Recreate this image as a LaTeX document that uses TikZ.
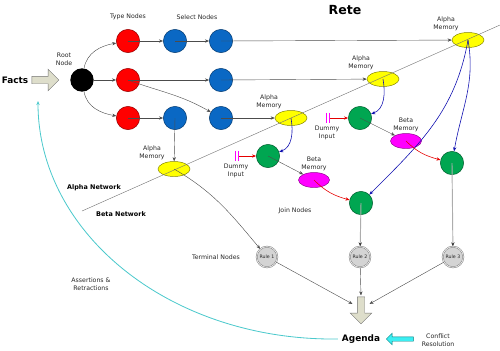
\documentclass[tikz,border=0pt]{standalone}
\usepackage{fontspec}
\setmainfont{DejaVu Sans}
\usetikzlibrary{arrows.meta,shapes.geometric,shapes.arrows}
\definecolor{typered}{HTML}{FF0000}
\definecolor{selectblue}{HTML}{0A68C4}
\definecolor{joingreen}{HTML}{00A651}
\definecolor{memyellow}{HTML}{FFFF00}
\definecolor{betamagenta}{HTML}{FF00FF}
\definecolor{alphablue}{HTML}{1010B0}
\definecolor{loopcyan}{HTML}{4CC9CC}
\definecolor{factgray}{HTML}{DEDECB}
\definecolor{conflictcyan}{HTML}{3CEEF2}

\begin{document}
\begin{tikzpicture}[
    x=0.03cm, y=-0.03cm,
    >={Stealth[length=3.5pt, width=2.8pt]},
    every node/.style={
        font=\fontsize{5.3}{6.6}\selectfont,
        align=center,
        text=black!85
    },
    ball/.style={
        circle,
        minimum size=0.7cm,
        inner sep=0pt
    },
    typenode/.style={ball, draw=typered!55!black, fill=typered},
    selectnode/.style={ball, draw=selectblue!55!black, fill=selectblue},
    joinnode/.style={ball, draw=joingreen!55!black, fill=joingreen},
    rootnode/.style={ball, fill=black},
    alphamem/.style={
        ellipse,
        draw=memyellow!50!black,
        fill=memyellow,
        minimum width=0.96cm,
        minimum height=0.45cm,
        inner sep=0pt
    },
    betamem/.style={
        ellipse,
        draw=betamagenta!55!black,
        fill=betamagenta,
        minimum width=0.93cm,
        minimum height=0.45cm,
        inner sep=0pt
    },
    rulenode/.style={
        circle,
        draw=black!50,
        line width=0.45pt,
        double=white,
        double distance=0.5pt,
        fill=black!17,
        minimum size=0.62cm,
        inner sep=0pt,
        font=\fontsize{4}{4.5}\selectfont
    },
    dummy/.style={
        minimum width=0.1cm,
        minimum height=0.3cm,
        inner sep=0pt
    },
    heading/.style={
        font=\fontsize{5.5}{6.6}\selectfont\bfseries,
        text=black
    },
    blockarrow/.style={
        single arrow,
        inner xsep=0pt,
        inner ysep=0.105cm,
        minimum height=0.81cm,
        single arrow head extend=0.21cm,
        draw=black!55,
        fill=factgray
    },
    flow/.style={->, draw=black!70, line width=0.35pt},
    alphaflow/.style={->, draw=alphablue, line width=0.5pt},
    betaflow/.style={->, draw=red!90!black, line width=0.5pt},
    ruleflow/.style={-{Stealth[length=3.5pt, width=2.8pt, black!80]}, draw=black!32, line width=0.8pt}
]
    \useasboundingbox (0,0) rectangle (500,350);

    \node[heading, font=\fontsize{10.7}{12}\selectfont\bfseries] (title) at (345,10) {Rete};
    \node[heading, font=\fontsize{7.6}{9}\selectfont\bfseries] (facts) at (15,80) {Facts};
    \node[blockarrow] (factsArrow) at (43.5,80) {};
    \node (rootlbl) at (64,59) {Root\\Node};
    \node (typelbl) at (128,17) {Type Nodes};
    \node (selectlbl) at (197,17) {Select Nodes};
    \node[heading] (alphanet) at (94,188) {Alpha Network};
    \node[heading] (betanet) at (121,214) {Beta Network};
    \node (joinlbl) at (295,211) {Join Nodes};
    \node (termlbl) at (216,257) {Terminal Nodes};
    \node (assertlbl) at (91,284) {Assertions \&\\Retractions};

    \node[rootnode] (root) at (82,80) {};
    \foreach \name/\x/\y in {
        t1/128/41,
        t2/128/80,
        t3/128/118%
    } {
        \node[typenode] (\name) at (\x,\y) {};
    }
    \foreach \name/\x/\y in {
        s1/175/41,
        s2/221/41,
        s3/221/80,
        s4/175/118,
        s5/221/118%
    } {
        \node[selectnode] (\name) at (\x,\y) {};
    }
    \foreach \name/\x/\y in {
        a1/468/40,
        a2/383/79,
        a3/291/118,
        a4/174/169%
    } {
        \node[alphamem] (\name) at (\x,\y) {};
        \node (\name lbl) at (\x-22,\y-16) {Alpha\\Memory};
    }
    \foreach \name/\x/\y in {
        j1/268/156,
        j2/360/118,
        j3/452/163,
        j4/361/203%
    } {
        \node[joinnode] (\name) at (\x,\y) {};
    }
    \foreach \name/\x/\y in {
        b1/314/180,
        b2/406/141%
    } {
        \node[betamem] (\name) at (\x,\y) {};
        \node (\name lbl) at (\x,\y-16) {Beta\\Memory};
    }
    \foreach \name/\x/\y in {
        d1/237/156,
        d2/328/118%
    } {
        \node[dummy] (\name) at (\x,\y) {};
        \node (\name lbl) at (\x-1,\y+15) {Dummy\\Input};
        \draw[betamagenta, line width=1pt]
            (\name.north west) -- (\name.south west)
            (\name.north east) -- (\name.south east);
    }
    \foreach \name/\x/\n in {
        r1/267/1,
        r2/360/2,
        r3/453/3%
    } {
        \node[rulenode] (\name) at (\x,257) {Rule \n};
    }

    \node[blockarrow, inner xsep=0.105cm, inner ysep=0pt,
        shape border rotate=270] (drop) at (361,308.5) {};
    \node[heading, font=\fontsize{7.6}{9}\selectfont\bfseries] (agenda) at (361,339) {Agenda};
    \node[blockarrow, draw=teal, fill=conflictcyan, inner ysep=0.06cm,
        single arrow head extend=0.105cm, shape border rotate=180] (conflictArrow) at (401,339) {};
    \node (conflict) at (438,340) {Conflict\\Resolution};

    \coordinate (netstart) at (82,211);
    \coordinate (netend) at (500,25);
    \draw[black!55, line width=0.35pt] (netstart) -- (netend);

    \draw[flow] (root) to[out=80, in=190] (t1);
    \draw[flow] (root) -- (t2);
    \draw[flow] (root) to[out=-80, in=170] (t3);
    \draw[flow] (t2.center) to[out=-20, in=150] (s5);
    \foreach \u/\v in {
        t1/s1, s1/s2, s2/a1,
        t2/s3, s3/a2,
        t3/s4, s4/a4, s5/a3%
    } {
        \draw[flow] (\u.center) -- (\v);
    }
    \draw[alphaflow] (a3.center) to[out=-80, in=20] (j1);
    \draw[alphaflow] (a2.center) to[out=-80, in=20] (j2);
    \draw[alphaflow] (a1.center) to[out=-80, in=80] (j3);
    \draw[alphaflow] (a1.center) to[out=-100, in=45] (j4);
    \draw[betaflow] (d1.east) -- (j1);
    \draw[betaflow] (d2.east) -- (j2);
    \draw[flow] (j1.center) -- (b1);
    \draw[flow] (j2.center) -- (b2);
    \draw[betaflow] (b1.center) to[out=-45, in=165] (j4);
    \draw[betaflow] (b2.center) to[out=-45, in=165] (j3);
    \draw[flow] (a4.center) to[out=-30, in=130] (r1);
    \draw[ruleflow] (j4.center) -- (r2);
    \draw[ruleflow] (j3.center) -- (r3);
    \draw[flow, shorten >=1pt] (r1) -- ([xshift=-3pt]drop.north west);
    \draw[flow, shorten >=1pt] (r2) -- (drop.north);
    \draw[flow, shorten >=1pt] (r3) -- ([xshift=3pt]drop.north east);

    \coordinate (factsIn) at (38,101);
    \draw[->, loopcyan, line width=0.7pt] (agenda.west) .. controls (170,341) and (38,233) .. (factsIn);
\end{tikzpicture}
\end{document}
